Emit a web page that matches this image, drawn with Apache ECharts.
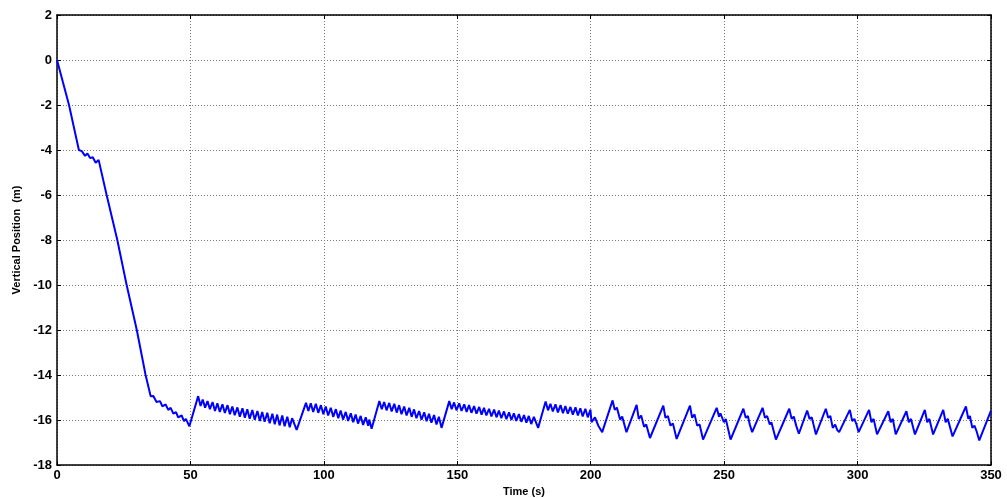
<!DOCTYPE html>
<html>
<head>
<meta charset="utf-8">
<script src="https://cdn.jsdelivr.net/npm/echarts@6/dist/echarts.min.js"></script>
<style>
  html, body { margin: 0; padding: 0; background: #fff; }
  #chart { width: 1007px; height: 498px; }
</style>
</head>
<body>
<div id="chart"></div>
<script>
// [time (s), vertical position (m)]
var descent = [
  [0, 0], [4.5, -2], [8.2, -4.0], [9.3, -4.05], [10.5, -4.26], [11.4, -4.16],
  [12.4, -4.36], [13.4, -4.32], [14.5, -4.57], [15.6, -4.44], [16.1, -4.51],
  [18.6, -6], [22.6, -8], [26.1, -10], [29.9, -12], [33.2, -14]
];

var settling = [
  [35.1, -14.94], [36.1, -14.93], [37.3, -15.20], [38.6, -15.16], [39.5, -15.39],
  [40.7, -15.31], [41.7, -15.55], [42.6, -15.46], [43.6, -15.72], [44.6, -15.65],
  [45.4, -15.88], [46.7, -15.80], [47.6, -16.05], [48.3, -15.95], [49.6, -16.28]
];

var ripple1 = [
  [52.9, -14.94], [53.8, -15.38], [54.6, -15.09], [55.5, -15.45], [56.4, -15.16],
  [57.3, -15.52], [58.3, -15.20], [59.2, -15.60], [60.1, -15.26], [61.0, -15.64],
  [62.0, -15.30], [62.9, -15.69], [63.9, -15.34], [64.8, -15.74], [65.7, -15.40],
  [66.6, -15.79], [67.6, -15.44], [68.5, -15.85], [69.5, -15.48], [70.4, -15.90],
  [71.3, -15.52], [72.2, -15.94], [73.2, -15.56], [74.1, -15.99], [75.1, -15.60],
  [76.0, -16.04], [76.9, -15.64], [77.8, -16.08], [78.8, -15.68], [79.7, -16.14],
  [80.7, -15.72], [81.6, -16.19], [82.5, -15.76], [83.4, -16.24], [84.4, -15.80],
  [85.3, -16.28], [86.3, -15.86], [87.2, -16.32], [88.1, -15.92], [89.8, -16.44]
];

var ripple2 = [
  [93.3, -15.24], [94.2, -15.60], [95.1, -15.26], [96.0, -15.64], [97.0, -15.28],
  [97.9, -15.68], [98.9, -15.34], [99.8, -15.74], [100.7, -15.40], [101.6, -15.80],
  [102.6, -15.46], [103.5, -15.86], [104.5, -15.52], [105.4, -15.92], [106.3, -15.58],
  [107.2, -15.98], [108.2, -15.64], [109.1, -16.04], [110.1, -15.70], [111.0, -16.10],
  [111.9, -15.76], [112.8, -16.16], [113.8, -15.82], [114.7, -16.22], [115.7, -15.88],
  [116.6, -16.26], [117.0, -15.98], [117.9, -16.39]
];

var ripple3 = [
  [120.8, -15.16], [121.7, -15.52], [122.6, -15.20], [123.5, -15.57], [124.5, -15.24],
  [125.4, -15.62], [126.4, -15.28], [127.3, -15.67], [128.2, -15.34], [129.1, -15.74],
  [130.1, -15.40], [131.0, -15.80], [132.0, -15.46], [132.9, -15.86], [133.8, -15.53],
  [134.7, -15.92], [135.7, -15.60], [136.6, -15.99], [137.6, -15.66], [138.5, -16.05],
  [139.4, -15.72], [140.3, -16.12], [141.3, -15.78], [142.2, -16.20], [143.1, -15.86],
  [144.1, -16.35]
];

var ripple4 = [
  [147.0, -15.16], [147.9, -15.52], [148.8, -15.22], [149.7, -15.57], [150.7, -15.26],
  [151.6, -15.60], [152.6, -15.30], [153.5, -15.64], [154.4, -15.34], [155.3, -15.68],
  [156.3, -15.38], [157.2, -15.72], [158.2, -15.42], [159.1, -15.76], [160.0, -15.46],
  [160.9, -15.80], [161.9, -15.50], [162.8, -15.84], [163.8, -15.54], [164.7, -15.88],
  [165.6, -15.58], [166.5, -15.92], [167.5, -15.62], [168.4, -15.96], [169.4, -15.66],
  [170.3, -16.00], [171.2, -15.70], [172.1, -16.04], [173.1, -15.74], [174.0, -16.08],
  [175.0, -15.78], [175.9, -16.12], [176.8, -15.82], [177.7, -16.18], [178.7, -15.86],
  [180.3, -16.35]
];

var ripple5 = [
  [183.1, -15.18], [184.0, -15.57], [184.9, -15.28], [185.8, -15.62], [186.8, -15.30],
  [187.7, -15.66], [188.7, -15.34], [189.6, -15.70], [190.5, -15.38], [191.4, -15.72],
  [192.4, -15.42], [193.3, -15.76], [194.3, -15.44], [195.2, -15.80], [196.1, -15.48],
  [197.0, -15.84], [198.0, -15.50], [198.9, -15.88], [199.9, -15.54], [200.3, -16.10],
  [201.6, -15.88], [202.8, -16.24], [204.3, -16.54]
];

var sawtooth = [
  [208.2, -15.13], [209.0, -15.55], [209.8, -15.45], [211.0, -15.98], [211.8, -15.85], [213.4, -16.54],
  [217.2, -15.33], [218.0, -15.95], [218.9, -15.80], [220.0, -16.30], [220.8, -16.20], [222.2, -16.80],
  [227.2, -15.36], [228.0, -15.90], [228.9, -15.82], [229.9, -16.25], [230.8, -16.15], [232.2, -16.84],
  [237.2, -15.36], [238.0, -15.90], [238.9, -15.75], [239.9, -16.25], [240.8, -16.20], [242.1, -16.87],
  [247.2, -15.46], [248.1, -15.85], [248.6, -15.70], [249.9, -16.10], [250.6, -15.95], [252.4, -16.87],
  [257.2, -15.50], [258.1, -15.90], [258.9, -15.82], [259.6, -16.20], [260.5, -16.54],
  [264.4, -15.46], [265.3, -15.90], [266.1, -15.82], [267.1, -16.20], [267.7, -16.10], [269.4, -16.87],
  [274.4, -15.50], [275.3, -15.95], [276.1, -15.85], [277.0, -16.25], [278.0, -16.61],
  [281.1, -15.58], [282.0, -15.95], [282.8, -15.88], [283.6, -16.25], [284.4, -16.64],
  [288.1, -15.50], [289.0, -15.90], [289.8, -15.82], [290.7, -16.35], [291.6, -16.20], [292.4, -16.45], [293.1, -16.54],
  [297.1, -15.55], [298.0, -16.05], [298.8, -15.95], [299.6, -16.20], [300.4, -16.54],
  [304.3, -15.55], [305.2, -16.10], [306.0, -15.95], [307.3, -16.64],
  [311.5, -15.61], [312.4, -16.10], [313.2, -15.95], [314.3, -16.64],
  [318.3, -15.61], [319.2, -16.10], [320.0, -15.95], [321.5, -16.64],
  [325.2, -15.55], [326.1, -16.10], [326.9, -15.95], [328.3, -16.64],
  [332.1, -15.55], [333.0, -16.10], [333.8, -15.95], [335.6, -16.73],
  [340.6, -15.40], [341.5, -15.95], [342.1, -15.82], [343.0, -16.35], [343.8, -16.25], [344.6, -16.50], [345.6, -16.91],
  [350.0, -15.58]
];

var xTicks = { min: 0, max: 350, step: 50 };
var yTicks = { min: -18, max: 2, step: 2 };

var position = [].concat(descent, settling, ripple1, ripple2, ripple3, ripple4, ripple5, sawtooth);

var labelFont = {
  color: '#000',
  fontFamily: 'Liberation Sans, Arial, sans-serif',
  fontWeight: 'bold',
  fontSize: 13
};
var gridLine = { show: true, lineStyle: { color: '#7a7a7a', type: [1, 2], width: 1 } };
var frame = { show: true, onZero: false, lineStyle: { color: '#000', width: 1.5 } };
var innerTick = { show: true, inside: true, length: 4, lineStyle: { color: '#000' } };

var myChart = echarts.init(document.getElementById('chart'));

var option = {
  animation: false,
  grid: { left: 57, right: 16, top: 15, bottom: 33, containLabel: false, outerBoundsMode: 'none' },
  xAxis: [{
    type: 'value',
    min: xTicks.min, max: xTicks.max, interval: xTicks.step,
    name: 'Time (s)',
    nameLocation: 'middle',
    nameGap: 12,
    nameTextStyle: { color: '#000', fontFamily: 'Liberation Sans, Arial, sans-serif', fontWeight: 'bold', fontSize: 11 },
    axisLine: frame,
    axisTick: innerTick,
    axisLabel: Object.assign({ margin: 4 }, labelFont),
    splitLine: gridLine
  }, {
    type: 'value', position: 'top',
    min: xTicks.min, max: xTicks.max, interval: xTicks.step,
    axisLine: frame, axisTick: innerTick,
    axisLabel: { show: false }, splitLine: { show: false }
  }],
  yAxis: [{
    type: 'value',
    min: yTicks.min, max: yTicks.max, interval: yTicks.step,
    name: 'Vertical Position  (m)',
    nameLocation: 'middle',
    nameGap: 33,
    nameTextStyle: { color: '#000', fontFamily: 'Liberation Sans Narrow, Liberation Sans, Arial, sans-serif', fontWeight: 'bold', fontSize: 11 },
    axisLine: frame,
    axisTick: innerTick,
    axisLabel: Object.assign({ margin: 5 }, labelFont),
    splitLine: gridLine
  }, {
    type: 'value', position: 'right',
    min: yTicks.min, max: yTicks.max, interval: yTicks.step,
    axisLine: frame, axisTick: innerTick,
    axisLabel: { show: false }, splitLine: { show: false }
  }],
  series: [{
    name: 'Vertical Position',
    type: 'line',
    data: position,
    showSymbol: false,
    lineStyle: { color: '#0000ff', width: 2 }
  }]
};

myChart.setOption(option);
</script>
</body>
</html>
